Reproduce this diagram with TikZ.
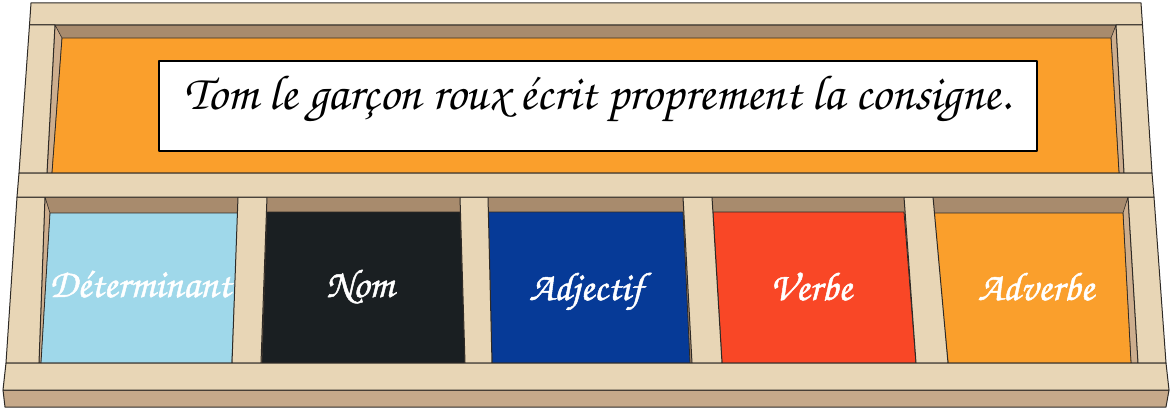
\documentclass[tikz,border=0pt]{standalone}
\usepackage{fontspec}
\newfontfamily\cursive{TeX Gyre Chorus}
\newfontfamily\cursivebold[FakeBold=1.2]{TeX Gyre Chorus}
\usepackage{graphicx}
\definecolor{wood}{HTML}{E8D6B6}
\definecolor{woodshadow}{HTML}{A88B6D}
\definecolor{woodside}{HTML}{CDAE8E}
\definecolor{woodbottom}{HTML}{C6A98A}
\definecolor{panelorange}{HTML}{FA9F2C}
\definecolor{cardblue}{HTML}{9FD8EA}
\definecolor{cardblack}{HTML}{1A1F22}
\definecolor{carddarkblue}{HTML}{063A97}
\definecolor{cardred}{HTML}{F94726}
\definecolor{cardorange}{HTML}{FA9F2C}
\definecolor{edge}{HTML}{2E2A26}
\begin{document}
\begin{tikzpicture}[x=1pt,y=-1pt,line join=round,
  woodpart/.style={fill=wood,draw=edge,line width=1pt},
  shadowpart/.style={fill=woodshadow,draw=edge,line width=0.8pt},
  sidepart/.style={fill=woodside,draw=edge,line width=0.6pt},
  bottompart/.style={fill=woodbottom,draw=edge,line width=1pt},
  card/.style={draw=edge,line width=0.8pt},
  cardlabel/.style={text=white,anchor=base,inner sep=0pt,font=\cursivebold\fontsize{40}{44}\selectfont},
  sentence/.style={text=black,anchor=base,inner sep=0pt}]
\useasboundingbox (0,0) rectangle (1176,412);
\fill[white] (0,0) rectangle (1176,412);
% upper cavity
\path[shadowpart] (55,25) -- (1116,25) -- (1124,173) -- (47,173) -- cycle;
\path[sidepart] (55,25) -- (62,38) -- (52,173) -- (47,173) -- cycle;
\path[sidepart] (1116,25) -- (1124,173) -- (1119,173) -- (1111,38) -- cycle;
\path[fill=panelorange,draw=edge,line width=0.8pt] (62,38) -- (1111,38) -- (1119,173) -- (52,173) -- cycle;
% upper frame
\path[woodpart] (31,3) -- (1141,3) -- (1142.5,25) -- (29.5,25) -- cycle;
\path[woodpart] (29.5,25) -- (55,25) -- (47,173) -- (19,173) -- cycle;
\path[woodpart] (1116,25) -- (1142.5,25) -- (1152,173) -- (1124,173) -- cycle;
% lower cavity
\path[shadowpart] (45,197) -- (1128,197) -- (1138,363) -- (39,363) -- cycle;
\path[sidepart] (45,197) -- (50,213) -- (41,363) -- (39,363) -- cycle;
\path[sidepart] (1128,197) -- (1138,363) -- (1131,363) -- (1123,213) -- cycle;
% cards
\path[card,fill=cardblue] (50,213) -- (238,213) -- (232,363) -- (41,363) -- cycle;
\path[card,fill=cardblack] (267,212) -- (460,212) -- (465,363) -- (262,363) -- cycle;
\path[card,fill=carddarkblue] (488,212) -- (683,212) -- (690,363) -- (492,363) -- cycle;
\path[card,fill=cardred] (713,212) -- (904,212) -- (916,363) -- (722,363) -- cycle;
\path[card,fill=cardorange] (933,213) -- (1123,213) -- (1131,363) -- (948,363) -- cycle;
% dividers and lower posts
\path[woodpart] (17,197) -- (45,197) -- (39,363) -- (6,363) -- cycle;
\path[woodpart] (238,197) -- (267,197) -- (261,363) -- (232,363) -- cycle;
\path[woodpart] (460,197) -- (488,197) -- (492,363) -- (465,363) -- cycle;
\path[woodpart] (683,197) -- (712,197) -- (722,363) -- (692,363) -- cycle;
\path[woodpart] (904,197) -- (933,197) -- (948,363) -- (916,363) -- cycle;
\path[woodpart] (1128,197) -- (1154,197) -- (1166,363) -- (1138,363) -- cycle;
% middle rail
\path[woodpart] (19,173) -- (1152,173) -- (1154,197) -- (17,197) -- cycle;
% bottom rail
\path[bottompart] (3,390) -- (1169,390) -- (1166,407) -- (5,407) -- cycle;
\path[woodpart] (6,363) -- (1166,363) -- (1169,390) -- (3,390) -- cycle;
% white strip
\node[draw=black,line width=2.5pt,fill=white,minimum width=878pt,minimum height=90pt,inner sep=0pt] (strip) at (598,106) {};
\node[sentence] (consigne) at (598,110) {\resizebox{827pt}{!}{\cursive Tom le garçon roux écrit proprement la consigne.}};
% labels
\node[cardlabel] (det) at (140,297) {Déterminant};
\node[cardlabel] (nom) at (360,297) {Nom};
\node[cardlabel] (adj) at (586,300) {Adjectif};
\node[cardlabel] (verbe) at (811,300) {Verbe};
\node[cardlabel] (adverbe) at (1036,300) {Adverbe};
\end{tikzpicture}
\end{document}
